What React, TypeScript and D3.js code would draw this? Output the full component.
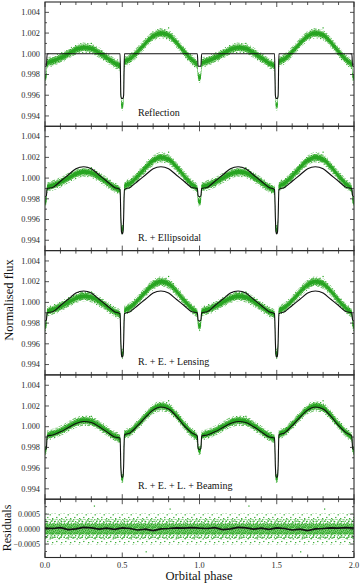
import React from 'react';
import * as d3 from 'd3';

// phase-folded light curve, one orbit; plotted twice (0-1 and 1-2) like the original figure
const phaseKnots = [0, 0.009, 0.014, 0.05, 0.1, 0.15, 0.2, 0.25, 0.3, 0.35, 0.4, 0.45, 0.486, 0.491, 0.495, 0.5, 0.505, 0.509, 0.514, 0.55, 0.6, 0.65, 0.7, 0.75, 0.8, 0.85, 0.9, 0.95, 0.986, 0.991];

const observedFlux = [0.9977, 0.9979, 0.9991, 0.9993, 0.9996, 1.0, 1.0004, 1.0006, 1.0005, 1.0001, 0.9996, 0.9991, 0.9988, 0.9962, 0.9951, 0.995, 0.9951, 0.9962, 0.9992, 0.9995, 1.0002, 1.001, 1.0017, 1.002, 1.0018, 1.0011, 1.0002, 0.9994, 0.9989, 0.9979];

const reflectionModel = [0.9988, 0.9988, 1.0, 1.0, 1.0, 1.0, 1.0, 1.0, 1.0, 1.0, 1.0, 1.0, 1.0, 0.996, 0.9957, 0.9957, 0.9957, 0.996, 1.0, 1.0, 1.0, 1.0, 1.0, 1.0, 1.0, 1.0, 1.0, 1.0, 1.0, 0.9988];

const ellipsoidalModel = [0.9982, 0.9983, 0.999, 0.9991, 0.9997, 1.0003, 1.0009, 1.0011, 1.0009, 1.0003, 0.9997, 0.9991, 0.9989, 0.9962, 0.9948, 0.9946, 0.9948, 0.9962, 0.9989, 0.9991, 0.9997, 1.0003, 1.0009, 1.0011, 1.0009, 1.0003, 0.9997, 0.9991, 0.999, 0.9983];

const lensingModel = [0.9982, 0.9983, 0.999, 0.9991, 0.9997, 1.0003, 1.0009, 1.0011, 1.0009, 1.0003, 0.9997, 0.9991, 0.9989, 0.9962, 0.9949, 0.9947, 0.9949, 0.9962, 0.9989, 0.9991, 0.9997, 1.0003, 1.0009, 1.0011, 1.0009, 1.0003, 0.9997, 0.9991, 0.999, 0.9983];

const beamingModel = [0.9978, 0.9979, 0.9991, 0.9992, 0.9995, 0.9999, 1.0003, 1.0005, 1.0004, 1.0, 0.9995, 0.999, 0.9989, 0.9962, 0.9952, 0.9951, 0.9952, 0.9962, 0.9992, 0.9994, 1.0001, 1.0009, 1.0016, 1.0019, 1.0017, 1.001, 1.0001, 0.9994, 0.9991, 0.9979];

const outlierPhase = [0.3, 0.8];
const outlierFlux = [1.001, 1.0025];

const residualPhase = [0, 0.05, 0.1, 0.15, 0.2, 0.25, 0.3, 0.35, 0.4, 0.45, 0.5, 0.55, 0.6, 0.65, 0.7, 0.75, 0.8, 0.85, 0.9, 0.95];
const residualMean = [0.00003, 0.00002, 0.00005, -0.00002, 0.00001, 0.00006, 0.00004, 0.0, 0.00003, -0.00001, 0.00004, 0.00002, -0.00003, 0.0, -0.00005, 0.00001, 0.00002, 0.00004, 0.00003, 0.00005];
const residualOutPhase = [0.32, 0.655, 0.81];
const residualOutValue = [0.00077, -0.00076, 0.00067];

const panelLabels = ['Reflection', 'R. + Ellipsoidal', 'R. + E. + Lensing', 'R. + E. + L. + Beaming'];
const panelModels = [reflectionModel, ellipsoidalModel, lensingModel, beamingModel];
const fluxTicks = [0.994, 0.996, 0.998, 1.0, 1.002, 1.004];
const fluxMinorTicks = [0.995, 0.997, 0.999, 1.001, 1.003];
const residualTicks = [-0.0005, 0, 0.0005];
const residualTickLabels = ['\u22120.0005', '0.0000', '0.0005'];
const residualMinorTicks = [-0.00075, -0.00025, 0.00025, 0.00075];
const phaseTicks = [0, 0.5, 1, 1.5, 2];

const FONT = '"Liberation Serif", "DejaVu Serif", serif';
const INK = '#2a2a2a';
const GREEN = '#27a421';

const panelTops = [2, 126.3, 250.6, 374.9];
const panelH = 124.3;
const resTop = 499.2;
const resBottom = 557.5;

const x = d3.scaleLinear().domain([0, 2]).range([45, 354]);

type Pt = [number, number];

// the folded orbit is drawn for cycles 0 and 1
function twoCycles(phases: number[], vals: number[]): Pt[] {
  const out: Pt[] = [];
  [0, 1].forEach((c) => phases.forEach((p, i) => out.push([p + c, vals[i]])));
  out.push([2, vals[0]]);
  return out;
}

function XTicks({ top, bottom }: { top: number; bottom: number }) {
  const ticks = d3.range(0, 20.5, 1).map((k) => k / 10);
  return (
    <g stroke={INK} strokeWidth={0.8}>
      {ticks.map((t) => {
        const major = Math.abs(t * 2 - Math.round(t * 2)) < 1e-6;
        const len = major ? 5 : 3;
        return (
          <g key={t}>
            <line x1={x(t)} x2={x(t)} y1={bottom} y2={bottom - len} />
            <line x1={x(t)} x2={x(t)} y1={top} y2={top + len} />
          </g>
        );
      })}
    </g>
  );
}

function YTicks({ y, major, minor }: { y: d3.ScaleLinear<number, number>; major: number[]; minor: number[] }) {
  const [l, r] = x.range();
  return (
    <g stroke={INK} strokeWidth={0.8}>
      {major.map((t) => (
        <g key={'M' + t}>
          <line x1={l} x2={l + 4} y1={y(t)} y2={y(t)} />
          <line x1={r} x2={r - 4} y1={y(t)} y2={y(t)} />
        </g>
      ))}
      {minor.map((t) => (
        <g key={'m' + t}>
          <line x1={l} x2={l + 2} y1={y(t)} y2={y(t)} />
          <line x1={r} x2={r - 2} y1={y(t)} y2={y(t)} />
        </g>
      ))}
    </g>
  );
}

function FluxPanel({ idx }: { idx: number }) {
  const top = panelTops[idx];
  const y = d3.scaleLinear().domain([0.993, 1.005]).range([top + panelH, top]);
  const obs = twoCycles(phaseKnots, observedFlux);
  const band = (w: number) =>
    d3.area<Pt>()
      .x((d) => x(d[0]))
      .y0((d) => y(d[1] - w))
      .y1((d) => y(d[1] + w))
      .curve(d3.curveMonotoneX)(obs) || '';
  const model = d3.line<Pt>()
    .x((d) => x(d[0]))
    .y((d) => y(d[1]))
    .curve(d3.curveMonotoneX)(twoCycles(phaseKnots, panelModels[idx])) || '';
  const [l, r] = x.range();
  return (
    <g>
      <clipPath id={'clip' + idx}>
        <rect x={l} y={top} width={r - l} height={panelH} />
      </clipPath>
      <g clipPath={`url(#clip${idx})`}>
        <path d={band(0.0005)} fill="url(#speckOuter)" />
        <path d={band(0.00033)} fill="url(#speckInner)" />
        <path d={band(0.00018)} fill={GREEN} />
        {outlierPhase.map((p, i) =>
          [0, 1].map((c) => (
            <rect key={i + '-' + c} x={x(p + c) - 0.6} y={y(outlierFlux[i]) - 0.6} width={1.2} height={1.2} fill={GREEN} />
          ))
        )}
        <path d={model} fill="none" stroke="#111" strokeWidth={1.1} />
      </g>
      <XTicks top={top} bottom={top + panelH} />
      <YTicks y={y} major={fluxTicks} minor={fluxMinorTicks} />
      <rect x={l} y={top} width={r - l} height={panelH} fill="none" stroke={INK} strokeWidth={1.1} />
      {fluxTicks.map((t) => (
        <text key={t} x={40} y={y(t)} dy="0.33em" textAnchor="end" fontSize={8.3} fontFamily={FONT} fill={INK}>
          {t.toFixed(3)}
        </text>
      ))}
      <text x={138} y={top + panelH - 10} fontSize={10} fontFamily={FONT} fill="#111">
        {panelLabels[idx]}
      </text>
    </g>
  );
}

function ResidualPanel() {
  const y = d3.scaleLinear().domain([-0.00095, 0.001]).range([resBottom, resTop]);
  const zero = twoCycles(residualPhase, residualPhase.map(() => 0));
  const band = (w: number) =>
    d3.area<Pt>()
      .x((d) => x(d[0]))
      .y0(() => y(-w))
      .y1(() => y(w))(zero) || '';
  const mean = d3.line<Pt>()
    .x((d) => x(d[0]))
    .y((d) => y(d[1]))(twoCycles(residualPhase, residualMean)) || '';
  const [l, r] = x.range();
  return (
    <g>
      <clipPath id="clipRes">
        <rect x={l} y={resTop} width={r - l} height={resBottom - resTop} />
      </clipPath>
      <g clipPath="url(#clipRes)">
        <path d={band(0.00052)} fill="url(#speckSparse)" />
        <path d={band(0.00034)} fill="url(#speckOuter)" />
        <path d={band(0.00018)} fill="url(#speckInner)" />
        {residualOutPhase.map((p, i) =>
          [0, 1].map((c) => (
            <rect key={i + '-' + c} x={x(p + c) - 0.6} y={y(residualOutValue[i]) - 0.6} width={1.2} height={1.2} fill={GREEN} />
          ))
        )}
        <path d={mean} fill="none" stroke="#111" strokeWidth={1.7} />
      </g>
      <XTicks top={resTop} bottom={resBottom} />
      <YTicks y={y} major={residualTicks} minor={residualMinorTicks} />
      <rect x={l} y={resTop} width={r - l} height={resBottom - resTop} fill="none" stroke={INK} strokeWidth={1.1} />
      {residualTicks.map((t, i) => (
        <text key={t} x={40} y={y(t)} dy="0.33em" textAnchor="end" fontSize={8} fontFamily={FONT} fill={INK}>
          {residualTickLabels[i]}
        </text>
      ))}
      {phaseTicks.map((t) => (
        <text key={t} x={x(t)} y={568} textAnchor="middle" fontSize={8.3} fontFamily={FONT} fill={INK}>
          {t.toFixed(1)}
        </text>
      ))}
    </g>
  );
}

export default function App() {
  return (
    <svg width={360} height={584} style={{ position: 'absolute', left: 0, top: 0, background: '#fff' }}>
      <defs>
        <pattern id="speckInner" width={6} height={6} patternUnits="userSpaceOnUse">
          <rect width={6} height={6} fill="#8fd486" />
          {[[0.2, 0.4], [2.1, 0.1], [4.0, 0.9], [1.0, 1.9], [3.1, 2.2], [5.0, 2.6], [0.1, 3.4], [2.2, 3.9], [4.1, 4.3], [1.2, 5.0], [3.3, 4.9], [5.1, 4.8]].map(([a, b], i) => (
            <rect key={i} x={a} y={b} width={1.3} height={1.3} fill={GREEN} />
          ))}
        </pattern>
        <pattern id="speckOuter" width={7} height={7} patternUnits="userSpaceOnUse">
          {[[0.3, 0.5], [3.2, 1.1], [1.6, 2.6], [5.1, 3.0], [0.8, 4.6], [3.4, 5.1], [5.6, 0.2], [2.4, 6.2], [4.6, 4.6]].map(([a, b], i) => (
            <rect key={i} x={a} y={b} width={1.2} height={1.2} fill={GREEN} />
          ))}
        </pattern>
        <pattern id="speckSparse" width={9} height={8} patternUnits="userSpaceOnUse">
          {[[0.5, 0.7], [4.6, 2.2], [2.2, 4.9], [7.1, 6.0], [6.4, 0.4]].map(([a, b], i) => (
            <rect key={i} x={a} y={b} width={1.2} height={1.2} fill={GREEN} />
          ))}
        </pattern>
      </defs>
      {panelLabels.map((_, i) => (
        <FluxPanel key={i} idx={i} />
      ))}
      <ResidualPanel />
      <text transform="translate(12.5,300) rotate(-90)" textAnchor="middle" fontSize={12.5} fontFamily={FONT} fill="#111">
        Normalised flux
      </text>
      <text transform="translate(11,528) rotate(-90)" textAnchor="middle" fontSize={12} fontFamily={FONT} fill="#111">
        Residuals
      </text>
      <text x={199} y={580} textAnchor="middle" fontSize={12.5} fontFamily={FONT} fill="#111">
        Orbital phase
      </text>
    </svg>
  );
}
